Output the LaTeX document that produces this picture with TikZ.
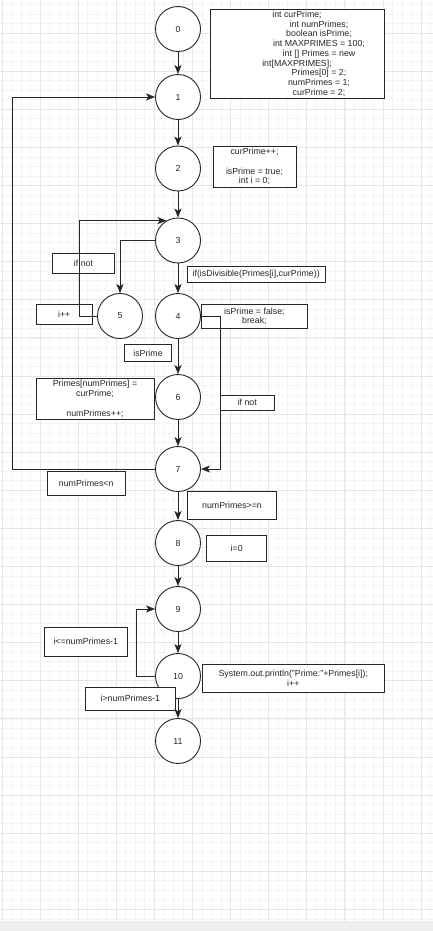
\documentclass[tikz,border=0pt]{standalone}
\usepackage{fontspec}
\setmainfont{Liberation Sans}
\usepackage{tikz}
\usetikzlibrary{arrows.meta,positioning}
\definecolor{gridminor}{HTML}{F4F4F4}
\definecolor{gridmajor}{HTML}{E6E6E6}
\definecolor{bandgray}{HTML}{EFEFEF}
\definecolor{inkgray}{HTML}{262626}
\newcommand{\flowfont}{\fontsize{8.8}{9.75}\selectfont}
\tikzset{
  state/.style={circle, draw=inkgray, fill=white, line width=0.9pt, minimum size=45pt, inner sep=0pt, text=black!85, font=\flowfont},
  note/.style={rectangle, draw=inkgray, fill=white, line width=0.9pt, inner sep=0pt, align=center, text=black!85, font=\flowfont},
  arrow/.style={-{Stealth[length=9pt,width=7pt,inset=2.2pt]}, draw=inkgray, line width=0.9pt},
  minorline/.style={draw=gridminor, line width=0.6pt},
  majorline/.style={draw=gridmajor, line width=0.8pt}
}

\begin{document}
\begin{tikzpicture}[x=1pt,y=-1pt]
  \useasboundingbox (0,0) rectangle (433,931);
  \fill[white] (0,0) rectangle (433,921);
  \fill[bandgray] (0,921) rectangle (433,931);

  % grid
  \foreach \i in {0,...,45} \draw[minorline] ({1.9+9.525*\i},0) -- ({1.9+9.525*\i},921);
  \foreach \j in {1,...,97} \draw[minorline] (0,{-5.1+9.525*\j}) -- (433,{-5.1+9.525*\j});
  \foreach \i in {0,...,11} \draw[majorline] ({1.9+38.1*\i},0) -- ({1.9+38.1*\i},921);
  \foreach \j in {1,...,24} \draw[majorline] (0,{-5.1+38.1*\j}) -- (433,{-5.1+38.1*\j});

  \node[state] (n0) at (178,29) {0};
  \node[state] (n1) at (178,97) {1};
  \node[state] (n2) at (178,168.5) {2};
  \node[state] (n3) at (178,240.5) {3};
  \node[state] (n4) at (178,316) {4};
  \node[state] (n5) at (120,316) {5};
  \node[state] (n6) at (178,397) {6};
  \node[state] (n7) at (178,469) {7};
  \node[state] (n8) at (178,543) {8};
  \node[state] (n9) at (178,609) {9};
  \node[state] (n10) at (178,676) {10};
  \node[state] (n11) at (178,741) {11};

  \node[note, minimum width=174pt, minimum height=89pt] (init) at (297,53.8) {%
    int curPrime;\\
    \hspace*{44pt}int numPrimes;\\
    \hspace*{44pt}boolean isPrime;\\
    \hspace*{44pt}int MAXPRIMES = 100;\\
    \hspace*{44pt}int [] Primes = new\\
    int[MAXPRIMES];\\
    \hspace*{44pt}Primes[0] = 2;\\
    \hspace*{44pt}numPrimes = 1;\\
    \hspace*{44pt}curPrime = 2;};
  \node[note, minimum width=83pt, minimum height=41.3pt] (incr) at (254.5,166.7)
    {curPrime++;\\[9.75pt] isPrime = true;\\ int i = 0;};
  \node[note, minimum width=61.6pt, minimum height=20pt] (ifnotA) at (83.5,263.3) {if not};
  \node[note, minimum width=137.7pt, minimum height=16.7pt] (divis) at (256.2,274.3)
    {if(isDivisible(Primes[i],curPrime))};
  \node[note, minimum width=105.8pt, minimum height=24pt] (setfalse) at (254.4,316.3)
    {isPrime = false;\\ break;};
  \node[note, minimum width=56.3pt, minimum height=20pt] (iinc) at (64.2,314.3) {i++};
  \node[note, minimum width=47.4pt, minimum height=17.4pt] (isprime) at (148,353) {isPrime};
  \node[note, minimum width=118pt, minimum height=41pt] (store) at (95,398.8)
    {Primes[numPrimes] =\\ curPrime;\\[9.75pt] numPrimes++;};
  \node[note, minimum width=53.3pt, minimum height=15.7pt] (ifnotB) at (247.3,402.8) {if not};
  \node[note, minimum width=77.7pt, minimum height=23.3pt] (lessn) at (86.2,483.3) {numPrimes<n};
  \node[note, minimum width=89.4pt, minimum height=27.6pt] (geqn) at (232,505.5) {numPrimes>=n};
  \node[note, minimum width=60pt, minimum height=26pt] (izero) at (236.7,548.7) {i=0};
  \node[note, minimum width=83.7pt, minimum height=28.3pt] (leqn) at (85.8,641.8) {i<=numPrimes-1};
  \node[note, minimum width=181.3pt, minimum height=28.4pt] (printb) at (293.3,678.5)
    {System.out.println("Prime:"+Primes[i]);\\ i++};
  \node[note, minimum width=90.7pt, minimum height=22.7pt] (gtn) at (130.3,698.7) {i>numPrimes-1};

  \coordinate (back1) at (12,469);
  \coordinate (back3) at (79,316);
  \coordinate (skip7) at (220.7,316);
  \coordinate (back9) at (136,676);

  \draw[arrow] (n0) -- (n1);
  \draw[arrow] (n1) -- (n2);
  \draw[arrow] (n2) -- (n3);
  \draw[arrow] (n3) -- (n4);
  \draw[arrow] (n3.west) -| (n5.north);
  \draw[arrow] (n5.west) -- (back3) |- (n3.120);
  \draw[arrow] (n4) -- (n6);
  \draw[arrow] (n4.east) -- (skip7) |- (n7.east);
  \draw[arrow] (n6) -- (n7);
  \draw[arrow] (n7.west) -- (back1) |- (n1.west);
  \draw[arrow] (n7) -- (n8);
  \draw[arrow] (n8) -- (n9);
  \draw[arrow] (n9) -- (n10);
  \draw[arrow] (n10.west) -- (back9) |- (n9.west);
  \draw[arrow] (n10) -- (n11);
\end{tikzpicture}
\end{document}
